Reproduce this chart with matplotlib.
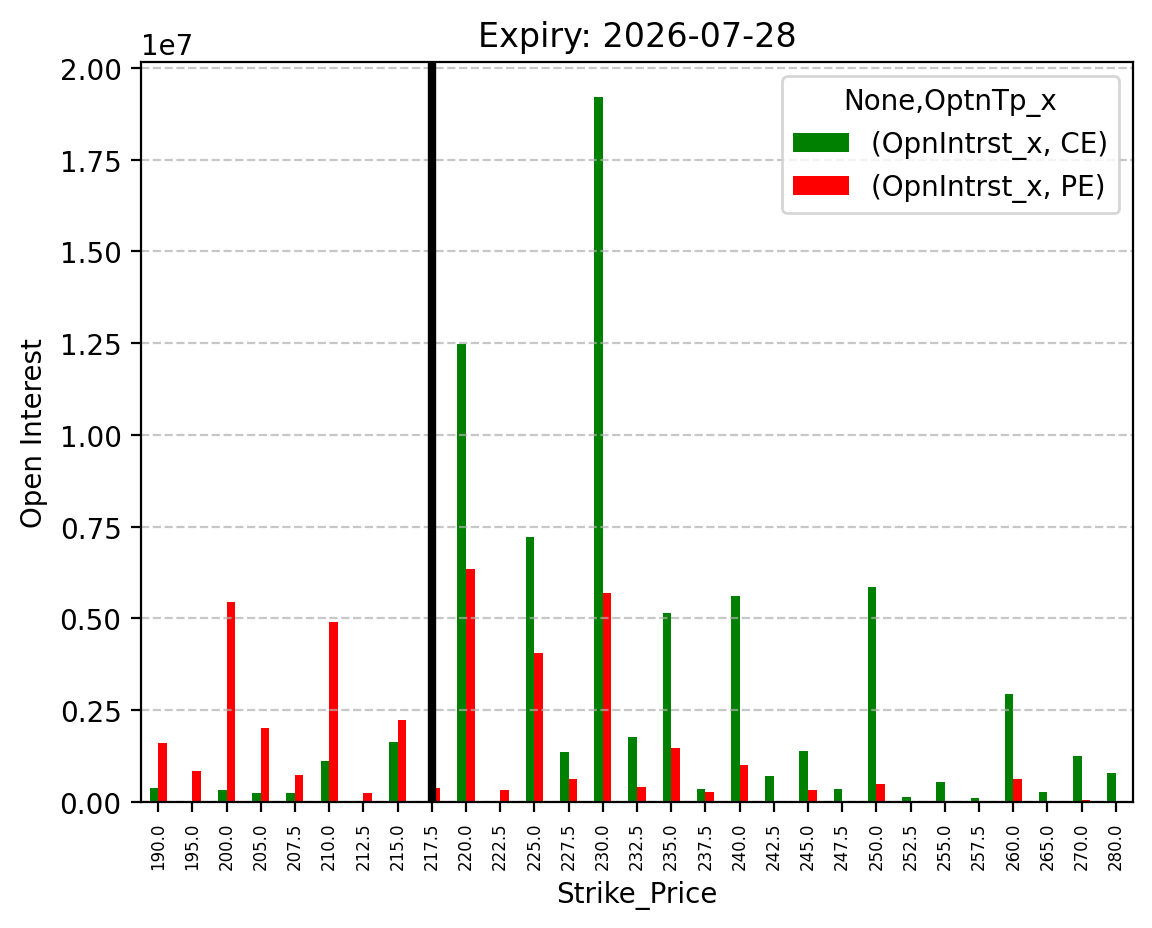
import pandas as pd
import matplotlib
matplotlib.use('Agg')
import matplotlib.pyplot as plt

# strike prices and open interest per option type
strikes = [190.0, 195.0, 200.0, 205.0, 207.5, 210.0, 212.5, 215.0, 217.5, 220.0,
           222.5, 225.0, 227.5, 230.0, 232.5, 235.0, 237.5, 240.0, 242.5, 245.0,
           247.5, 250.0, 252.5, 255.0, 257.5, 260.0, 265.0, 270.0, 280.0]
ce_oi = [376000, 30000, 320000, 240000, 240000, 1120000, 0, 1640000, 0, 12480000,
         0, 7210000, 1360000, 19200000, 1770000, 5160000, 350000, 5620000, 700000, 1390000,
         350000, 5850000, 130000, 540000, 100000, 2950000, 266000, 1250000, 785000]
pe_oi = [1600000, 840000, 5440000, 2000000, 730000, 4890000, 240000, 2240000, 376000, 6340000,
         320000, 4070000, 620000, 5680000, 400000, 1470000, 266000, 1000000, 0, 320000,
         0, 484000, 0, 0, 0, 620000, 0, 50000, 0]
spot_strike = 217.5
expiry = '2026-07-28'

cols = pd.MultiIndex.from_tuples([('OpnIntrst_x', 'CE'), ('OpnIntrst_x', 'PE')],
                                 names=[None, 'OptnTp_x'])
df = pd.DataFrame(list(zip(ce_oi, pe_oi)), index=pd.Index(strikes, name='Strike_Price'),
                  columns=cols)

fig, ax = plt.subplots(figsize=(5.76, 4.645), dpi=200)
df.plot(kind='bar', ax=ax, color=['green', 'red'])

# mark the current strike
ax.axvline(strikes.index(spot_strike), color='black', linewidth=3)

ax.set_title(f'Expiry: {expiry}')
ax.set_ylabel('Open Interest')
ax.set_xlabel('Strike_Price')
ax.set_ylim(0, 2.016e7)
ax.tick_params(axis='x', labelsize=6)
ax.grid(axis='y', linestyle='--', alpha=0.7)
ax.legend(title='None,OptnTp_x', loc='upper right')

plt.subplots_adjust(left=0.1224, right=0.9835, top=0.932, bottom=0.1358)
plt.savefig('out.png', dpi=200)
